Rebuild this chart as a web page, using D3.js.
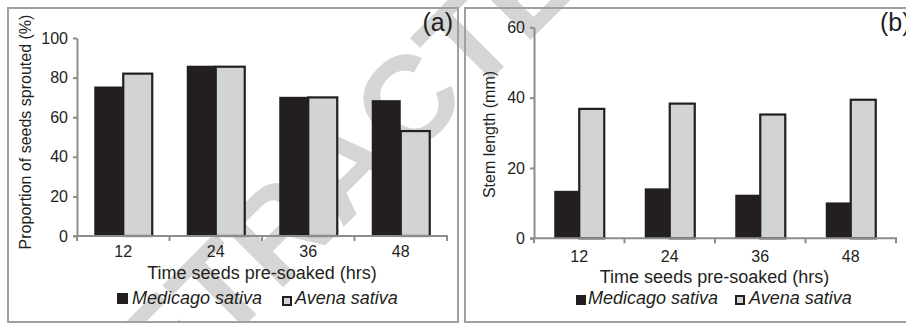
<!DOCTYPE html>
<html>
<head>
<meta charset="utf-8">
<script src="https://cdn.jsdelivr.net/npm/d3@7"></script>
<style>
  html, body { margin: 0; padding: 0; background: #fff; }
  svg { display: block; }
  text { font-family: "Liberation Sans", Arial, Helvetica, sans-serif; fill: #231f20; }
</style>
</head>
<body>
<svg id="chart" width="906" height="323"></svg>
<script>
// Soaking times (hours) shared by both panels
const categories = ["12", "24", "36", "48"];
const seriesNames = ["Medicago sativa", "Avena sativa"];

// Panel (a): proportion of seeds sprouted (%)
const sproutedMedicago = [75.5, 86, 70.3, 68.6];
const sproutedAvena = [82, 85.5, 70, 53];
const sproutedTicks = [0, 20, 40, 60, 80, 100];

// Panel (b): stem length (mm)
const stemMedicago = [13.5, 14.2, 12.4, 10.2];
const stemAvena = [36.8, 38.3, 35.2, 39.4];
const stemTicks = [0, 20, 40, 60];

const svg = d3.select("#chart");
const INK = "#231f20";
const BAR_DARK = "#231f20";
const BAR_LIGHT = "#d1d3d4";
const AXIS = "#8c8c8c";
const FRAME = "#a0a0a0";

// Watermark behind the figure
svg.append("text")
  .attr("transform", "translate(343,166) rotate(-45)")
  .attr("text-anchor", "middle")
  .attr("dominant-baseline", "central")
  .style("font-size", "126px")
  .style("font-weight", "bold")
  .style("fill", "#d5d5d5")
  .text("RETRACTED");

// Panel frames
svg.append("rect").attr("x", 8).attr("y", 8).attr("width", 450).attr("height", 314)
  .attr("fill", "none").attr("stroke", FRAME).attr("stroke-width", 2);
svg.append("rect").attr("x", 465).attr("y", 8).attr("width", 460).attr("height", 314)
  .attr("fill", "none").attr("stroke", FRAME).attr("stroke-width", 2);

function panel(cfg) {
  const g = svg.append("g");
  const x = d3.scaleBand().domain(categories).range([cfg.x0, cfg.x1]).paddingInner(0).paddingOuter(0);
  const y = d3.scaleLinear().domain([0, cfg.ymax]).range([cfg.y0, cfg.yTop]);
  const inner = d3.scaleBand().domain(seriesNames).range([0, x.bandwidth()])
    .paddingInner(0).paddingOuter(cfg.outerPad);

  const rows = categories.map((c, i) => ({ cat: c, vals: [cfg.a[i], cfg.b[i]] }));

  // bars
  const grp = g.selectAll("g.grp").data(rows).join("g")
    .attr("transform", d => `translate(${x(d.cat)},0)`);
  grp.selectAll("rect").data(d => d.vals.map((v, j) => ({ v, s: seriesNames[j], j })))
    .join("rect")
    .attr("x", d => inner(d.s))
    .attr("y", d => y(d.v))
    .attr("width", inner.bandwidth())
    .attr("height", d => y(0) - y(d.v))
    .attr("fill", d => d.j === 0 ? BAR_DARK : BAR_LIGHT)
    .attr("stroke", d => d.j === 1 ? INK : "none")
    .attr("stroke-width", 2.2);

  // y axis
  const yAxis = g.append("g").attr("transform", `translate(${cfg.x0},0)`)
    .call(d3.axisLeft(y).tickValues(cfg.ticks).tickSize(4).tickPadding(5).tickSizeOuter(0));
  yAxis.select(".domain").attr("stroke", AXIS).attr("stroke-width", 2);
  yAxis.selectAll(".tick line").attr("stroke", AXIS).attr("stroke-width", 2);
  yAxis.selectAll(".tick text").style("font-size", "16px").attr("fill", INK);

  // x axis: labels at band centres, tick marks at band boundaries
  const xAxis = g.append("g").attr("transform", `translate(0,${cfg.y0})`)
    .call(d3.axisBottom(x).tickSize(0).tickPadding(cfg.xLabelPad).tickSizeOuter(0));
  xAxis.select(".domain").attr("stroke", AXIS).attr("stroke-width", 2)
    .attr("d", `M${cfg.x0 - 4},0H${cfg.x1 + 1}`);
  xAxis.selectAll(".tick text").style("font-size", "16px").attr("fill", INK);
  const bounds = categories.map(c => x(c)).concat([x.range()[1]]);
  xAxis.selectAll("line.bnd").data(bounds).join("line").attr("class", "bnd")
    .attr("x1", d => d).attr("x2", d => d).attr("y1", 0).attr("y2", 5)
    .attr("stroke", AXIS).attr("stroke-width", 2);

  // axis titles
  g.append("text")
    .attr("x", (cfg.x0 + cfg.x1) / 2 + cfg.xTitleShift).attr("y", cfg.xTitleY)
    .attr("text-anchor", "middle").style("font-size", "18px")
    .text("Time seeds pre-soaked (hrs)");
  g.append("text")
    .attr("transform", `translate(${cfg.yTitleX},${cfg.yTitleY}) rotate(-90)`)
    .attr("text-anchor", "middle").style("font-size", cfg.yTitleSize)
    .text(cfg.yTitle);

  // legend
  const lg = g.append("g");
  lg.append("rect").attr("x", cfg.leg.sq1x).attr("y", cfg.leg.sqy).attr("width", cfg.leg.sq1).attr("height", cfg.leg.sq1)
    .attr("fill", BAR_DARK);
  lg.append("text").attr("x", cfg.leg.t1x).attr("y", cfg.leg.base)
    .style("font-size", "18px").style("font-style", "italic").text(seriesNames[0]);
  lg.append("rect").attr("x", cfg.leg.sq2x).attr("y", cfg.leg.sqy2).attr("width", cfg.leg.sq2).attr("height", cfg.leg.sq2)
    .attr("fill", BAR_LIGHT).attr("stroke", INK).attr("stroke-width", 2);
  lg.append("text").attr("x", cfg.leg.t2x).attr("y", cfg.leg.base)
    .style("font-size", "18px").style("font-style", "italic").text(seriesNames[1]);

  // panel letter
  g.append("text").attr("x", cfg.tagX).attr("y", 31).attr("text-anchor", cfg.tagAnchor)
    .style("font-size", "25px").text(cfg.tag);
}

panel({
  x0: 77, x1: 447, y0: 236, yTop: 38, ymax: 100, ticks: sproutedTicks,
  a: sproutedMedicago, b: sproutedAvena, outerPad: 0.595,
  xLabelPad: 10, xTitleY: 279, xTitleShift: 0,
  yTitle: "Proportion of seeds sprouted (%)", yTitleX: 31, yTitleY: 132, yTitleSize: "16px",
  leg: { sq1x: 117, sqy: 293, sq1: 11, t1x: 132, sq2x: 283, sqy2: 297, sq2: 8, t2x: 295, base: 304 },
  tag: "(a)", tagX: 453, tagAnchor: "end"
});

panel({
  x0: 534, x1: 896, y0: 238.3, yTop: 27.3, ymax: 60, ticks: stemTicks,
  a: stemMedicago, b: stemAvena, outerPad: 0.81,
  xLabelPad: 12, xTitleY: 283, xTitleShift: -0.5,
  yTitle: "Stem length (mm)", yTitleX: 495, yTitleY: 134.5, yTitleSize: "16px",
  leg: { sq1x: 576, sqy: 295, sq1: 10, t1x: 588, sq2x: 736, sqy2: 296, sq2: 8, t2x: 749, base: 304 },
  tag: "(b)", tagX: 880, tagAnchor: "start"
});
</script>
</body>
</html>
